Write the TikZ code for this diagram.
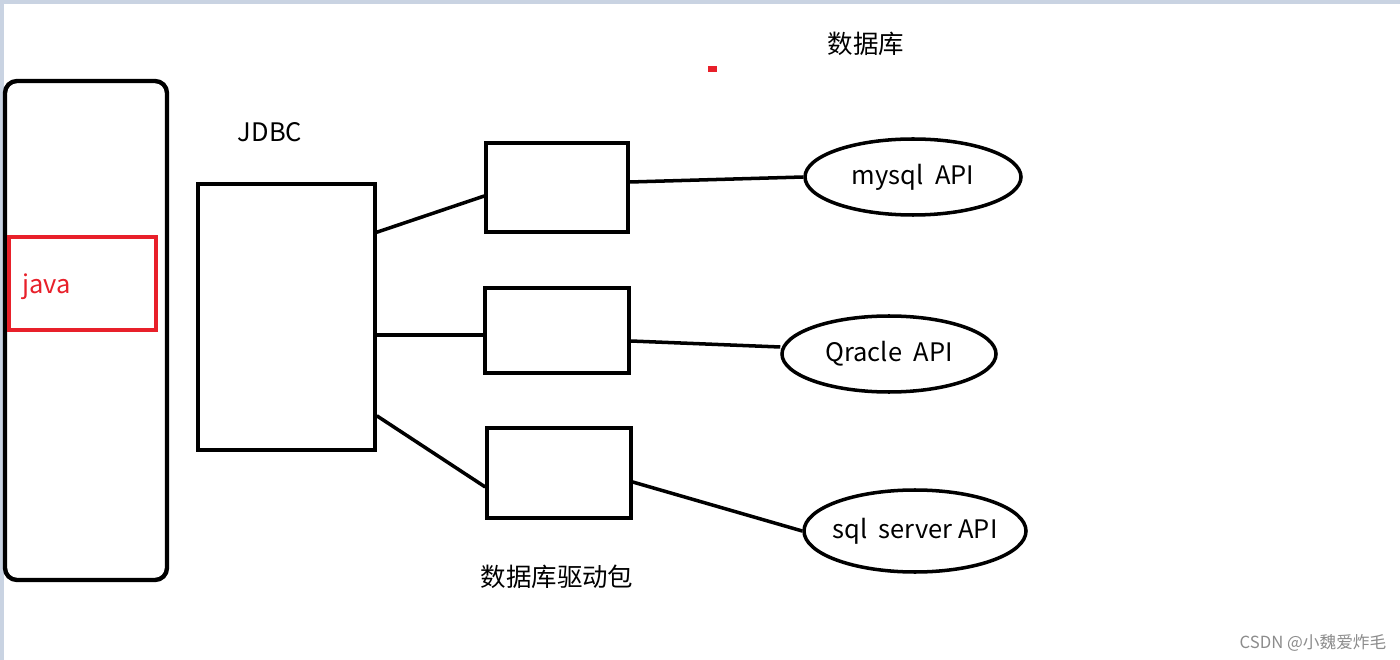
\documentclass[tikz,border=0pt]{standalone}
\usepackage{fontspec}
\setmainfont{Noto Sans CJK SC}
\usetikzlibrary{shapes.geometric}
\definecolor{frameblue}{HTML}{C9D3E2}
\definecolor{javared}{HTML}{E8202A}
\definecolor{markgray}{HTML}{8C8C8C}
\tikzset{
    box/.style={draw, line width=2pt, minimum width=#1},
    api/.style={draw, ellipse, line width=2pt, inner sep=0pt},
    link/.style={line width=2pt},
    lbl/.style={font=\fontsize{14.5}{17}\selectfont}
}
\begin{document}
\begin{tikzpicture}
    % Canvas
    \useasboundingbox (0,0) rectangle (28,-13.2);
    \fill[white] (0,0) rectangle (28,-13.2);
    \fill[frameblue] (0,0) rectangle (28,-0.08);
    \fill[frameblue] (0,0) rectangle (0.08,-13.2);

    % Java side
    \node[draw, line width=2.5pt, rounded corners=0.24cm, minimum width=3.24cm, minimum height=9.98cm] (app) at (1.72,-6.61) {};
    \node[draw=javared, line width=2pt, minimum width=2.94cm, minimum height=1.86cm] (javabox) at (1.65,-5.67) {};
    \node[lbl, text=javared, anchor=west, inner sep=0pt] (java) at (0.44,-5.74) {java};

    % JDBC
    \node[box=3.54cm, minimum height=5.32cm] (jdbc) at (5.73,-6.34) {};
    \node[lbl] (jdbclbl) at (5.4,-2.64) {JDBC};

    % Drivers
    \node[box=2.84cm, minimum height=1.78cm] (drvA) at (11.14,-3.75) {};
    \node[box=2.88cm, minimum height=1.70cm] (drvB) at (11.14,-6.61) {};
    \node[box=2.88cm, minimum height=1.80cm] (drvC) at (11.18,-9.46) {};
    \node[lbl] (drvlbl) at (11.14,-11.54) {数据库驱动包};

    % Databases
    \node[api, minimum width=4.32cm, minimum height=1.52cm, label={[lbl]center:mysql\ \ API}] (mysql) at (18.26,-3.54) {};
    \node[api, minimum width=4.28cm, minimum height=1.52cm, label={[lbl]center:Qracle\ \ API}] (oracle) at (17.78,-7.08) {};
    \node[api, minimum width=4.44cm, minimum height=1.64cm, label={[lbl]center:sql\ \ server API}] (sqlsrv) at (18.3,-10.62) {};
    \node[lbl] (dblbl) at (17.32,-0.88) {数据库};
    \fill[javared] (14.16,-1.32) rectangle (14.34,-1.44);

    % Lines
    \draw[link] ([yshift=-1cm]jdbc.north east) -- ([yshift=-0.17cm]drvA.west);
    \draw[link] ([yshift=-0.36cm]jdbc.east) -- ([yshift=-0.36cm]jdbc.east -| drvB.west);
    \draw[link] ([yshift=0.72cm]jdbc.south east) -- ([yshift=-0.28cm]drvC.west);
    \draw[link] ([yshift=0.11cm]drvA.east) -- (mysql.west);
    \draw[link] ([yshift=-0.21cm]drvB.east) -- ([yshift=0.14cm]oracle.west);
    \draw[link] ([yshift=-0.18cm]drvC.east) -- (sqlsrv.west);

    % Watermark
    \node[text=markgray, font=\fontsize{9.5}{11}\selectfont] (mark) at (26.26,-12.86) {CSDN @小魏爱炸毛};
\end{tikzpicture}
\end{document}
